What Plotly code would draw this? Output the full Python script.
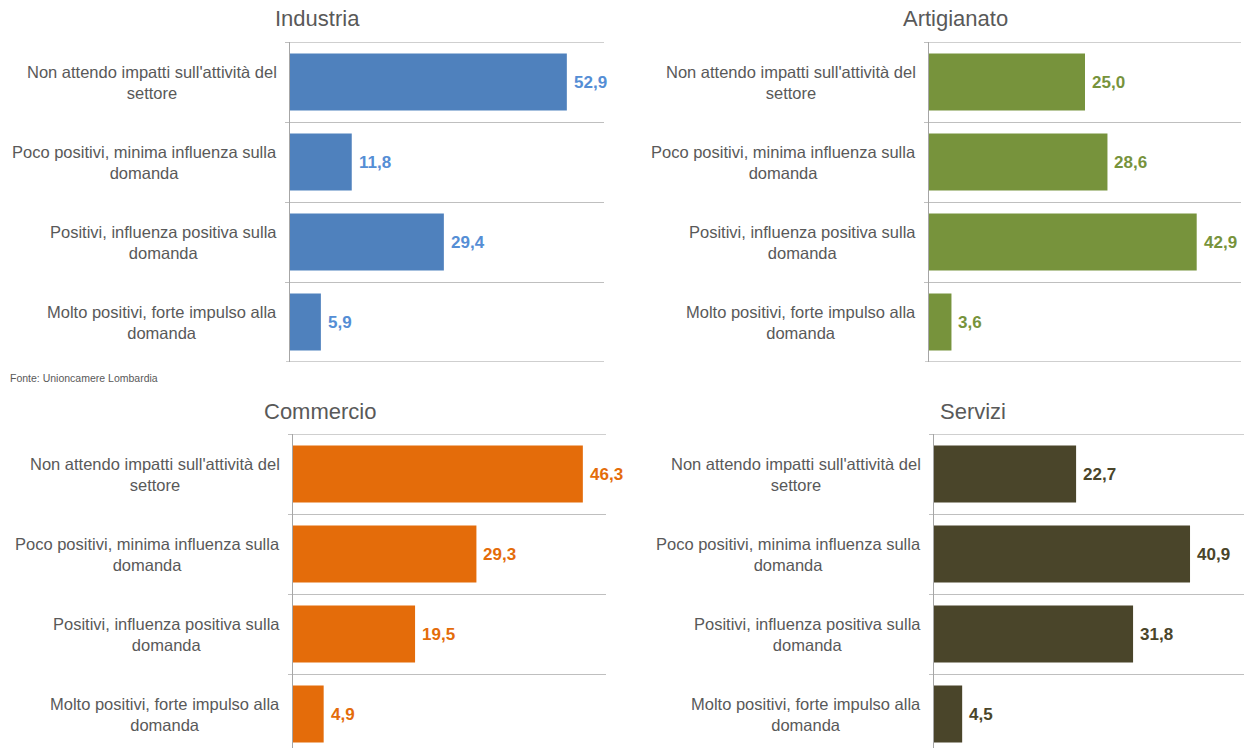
import plotly.graph_objects as go

W, H = 1244, 748

categories = [
    "Non attendo impatti sull'attività del settore",
    "Poco positivi, minima influenza sulla domanda",
    "Positivi, influenza positiva sulla domanda",
    "Molto positivi, forte impulso alla domanda",
]
category_labels = [
    "Non attendo impatti sull'attività del<br>settore",
    "Poco positivi, minima influenza sulla<br>domanda",
    "Positivi, influenza positiva sulla<br>domanda",
    "Molto positivi, forte impulso alla<br>domanda",
]
panel_titles = ["Industria", "Artigianato", "Commercio", "Servizi"]
industria = [52.9, 11.8, 29.4, 5.9]
artigianato = [25.0, 28.6, 42.9, 3.6]
commercio = [46.3, 29.3, 19.5, 4.9]
servizi = [22.7, 40.9, 31.8, 4.5]
source_note = "Fonte: Unioncamere Lombardia"

series = [industria, artigianato, commercio, servizi]
bar_colors = ["#4F81BD", "#77933C", "#E46C0A", "#4A452A"]
label_colors = ["#558ED5", "#77933C", "#E46C0A", "#4A452A"]

# panel geometry in pixels
x_px = [(290, 604), (929, 1241), (293, 606), (934, 1244)]
x_rng = [[0, 60], [0, 50], [0, 50], [0, 310 / 6.26]]
y_px = [(42, 362), (42, 362), (434, 748), (434, 748)]
y_rng = [[3.5, -0.5], [3.5, -0.5], [-0.5 + 314 / 80, -0.5], [-0.5 + 314 / 80, -0.5]]
title_pos = [(317, 19), (955, 19), (320, 411), (973, 411)]

GRID = "#BFBFBF"
AXIS = "#A6A6A6"
TEXT = "#595959"
FONT = "Liberation Sans, Arial, sans-serif"

fig = go.Figure()
annotations = []
shapes = []
layout = {}
for k in range(4):
    sfx = "" if k == 0 else str(k + 1)
    xa, ya = "x" + sfx, "y" + sfx
    fig.add_trace(go.Bar(
        x=series[k], y=categories, orientation="h",
        marker=dict(color=bar_colors[k], line=dict(width=0)),
        xaxis=xa, yaxis=ya, showlegend=False, hoverinfo="x+y",
    ))
    layout["xaxis" + sfx] = dict(
        domain=[x_px[k][0] / W, x_px[k][1] / W], range=x_rng[k],
        showgrid=False, zeroline=False, showticklabels=False, ticks="",
        showline=False, anchor=ya, fixedrange=True,
    )
    layout["yaxis" + sfx] = dict(
        domain=[1 - y_px[k][1] / H, 1 - y_px[k][0] / H], range=y_rng[k],
        type="category", tickson="boundaries", ticks="outside", ticklen=4,
        tickcolor=GRID, tickwidth=1.3, showgrid=True, gridcolor=GRID, gridwidth=1.3,
        showline=True, linecolor=AXIS, linewidth=1.3, showticklabels=False,
        zeroline=False, anchor=xa, fixedrange=True, layer="above traces",
    )
    xd = "x" + sfx + " domain"
    stub = -4 / (x_px[k][1] - x_px[k][0])
    for yb in (-0.5, len(categories) - 0.5):
        shapes.append(dict(
            type="line", xref=xd, yref=ya, x0=stub, x1=1, y0=yb, y1=yb,
            line=dict(color=GRID, width=1.3), layer="below",
        ))
    for i, (lab, v) in enumerate(zip(category_labels, series[k])):
        annotations.append(dict(
            x=0, y=i, xref=xd, yref=ya, text=lab, showarrow=False,
            xanchor="right", yanchor="middle", align="center", xshift=-11,
            font=dict(family=FONT, size=16.5, color=TEXT),
        ))
        annotations.append(dict(
            x=v, y=i, xref=xa, yref=ya, text=f"{v:.1f}".replace(".", ","),
            showarrow=False, xanchor="left", yanchor="middle", xshift=5,
            font=dict(family=FONT, size=17, color=label_colors[k], weight="bold"),
        ))
    annotations.append(dict(
        x=title_pos[k][0] / W, y=1 - title_pos[k][1] / H, xref="paper", yref="paper",
        text=panel_titles[k], showarrow=False, xanchor="center", yanchor="middle",
        font=dict(family=FONT, size=22, color=TEXT),
    ))

annotations.append(dict(
    x=8 / W, y=1 - 378 / H, xref="paper", yref="paper", text=source_note,
    showarrow=False, xanchor="left", yanchor="middle",
    font=dict(family=FONT, size=10.5, color=TEXT),
))

fig.update_layout(
    width=W, height=H, margin=dict(l=0, r=0, t=0, b=0),
    paper_bgcolor="white", plot_bgcolor="white",
    bargap=0.29, annotations=annotations, shapes=shapes, **layout,
)
fig.write_html("out.html", config={"displayModeBar": False})
